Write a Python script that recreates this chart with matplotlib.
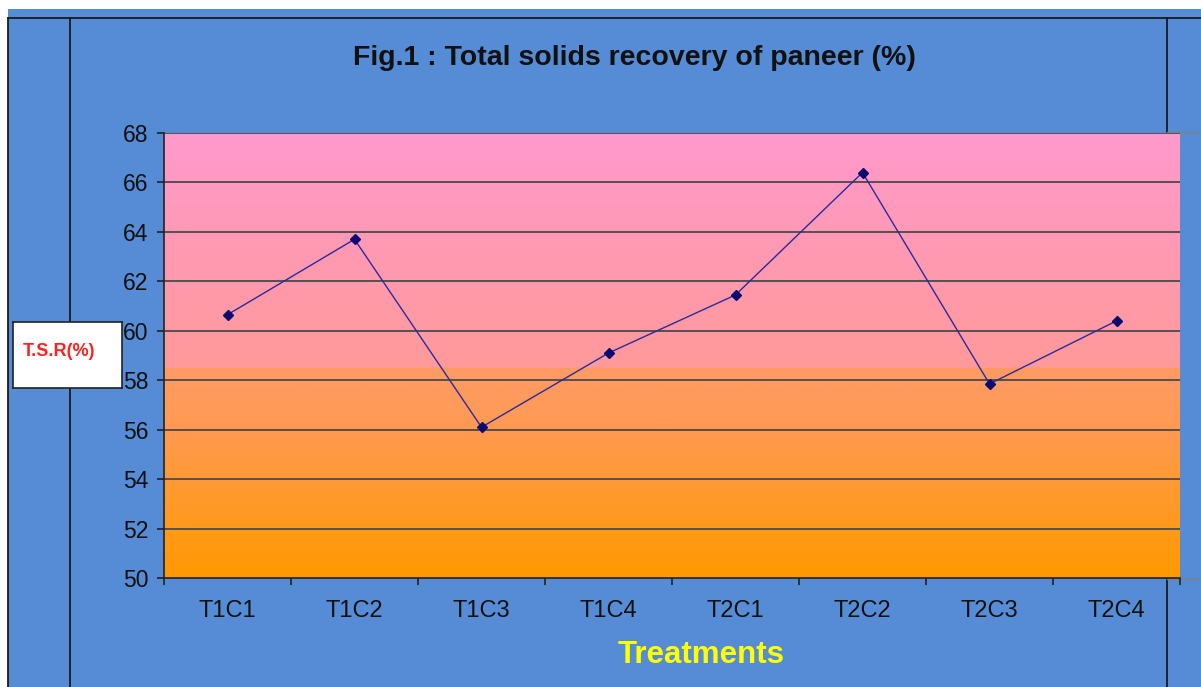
import numpy as np
import matplotlib
matplotlib.use("Agg")
import matplotlib.pyplot as plt
from matplotlib.colors import LinearSegmentedColormap
from matplotlib.patches import Rectangle
from matplotlib.lines import Line2D

categories = ["T1C1", "T1C2", "T1C3", "T1C4", "T2C1", "T2C2", "T2C3", "T2C4"]
tsr = [60.65, 63.7, 56.1, 59.1, 61.45, 66.4, 57.85, 60.4]
yticks = [50, 52, 54, 56, 58, 60, 62, 64, 66, 68]

plt.rcParams['font.family'] = ['Liberation Sans', 'DejaVu Sans']

W, H = 1201, 687
blue = '#558CD5'
fig = plt.figure(figsize=(W / 100, H / 100), dpi=100)
fig.patch.set_facecolor(blue)

# white margins (top strip and left strip)
fig.patches.append(Rectangle((0, 1 - 9 / H), 1, 9 / H, transform=fig.transFigure,
                             facecolor='white', edgecolor='none', zorder=0))
fig.patches.append(Rectangle((0, 0), 8 / W, 1, transform=fig.transFigure,
                             facecolor='white', edgecolor='none', zorder=0))

def fl(x0, y0, x1, y1, c='#1a1a1a', lw=1.3):
    fig.lines.append(Line2D([x0 / W, x1 / W], [1 - y0 / H, 1 - y1 / H], transform=fig.transFigure,
                            color=c, lw=lw, zorder=1))
fl(8, 18, W, 18)
fl(8, 18, 8, H)
fl(70, 18, 70, H)
fl(1167, 18, 1167, 132)
fl(1167, 579, 1167, H)
fl(1167, 132, W, 132, c='#808080', lw=1)
fl(1167, 579, W, 579, c='#808080', lw=1)

ax = fig.add_axes([164 / W, 1 - 578 / H, (1180 - 164) / W, (578 - 133) / H])
ax.set_zorder(3)
ax.set_facecolor('none')

n = len(categories)
x = np.arange(n)
ax.set_xlim(-0.5, n - 0.5)
ax.set_ylim(50, 68)

split = (58.5 - 50) / 18
cmap = LinearSegmentedColormap.from_list('bg', [
    (0.0, '#FF9900'),
    (0.35, '#FF9A55'),
    (split - 0.001, '#FF9A66'),
    (split, '#FF9A9A'),
    (1.0, '#FF99CC'),
])
grad = np.linspace(0, 1, 512).reshape(-1, 1)
ax.imshow(grad, cmap=cmap, origin='lower', aspect='auto', extent=(-0.5, n - 0.5, 50, 68), zorder=0)

for yv in yticks[1:]:
    ax.axhline(yv, color='#4a4a4a', lw=1.3, zorder=1)

ax.plot(x, tsr, color='#2B2B9A', lw=1.0, marker='D', markersize=5.5,
        markerfacecolor='#0A0A70', markeredgecolor='#0A0A70', zorder=3)

ax.set_yticks(yticks)
ax.set_yticklabels([str(v) for v in yticks], fontsize=16.5, color='#111111')
ax.set_xticks(x)
ax.set_xticklabels(categories, fontsize=17, color='#111111')
ax.tick_params(axis='x', length=0, pad=16)
ax.set_xticks(np.arange(-0.5, n, 1), minor=True)
ax.tick_params(axis='x', which='minor', length=5, width=1.2, color='#222222')
ax.tick_params(axis='y', length=5, width=1.2, color='#222222', pad=6)

for s in ['top', 'right']:
    ax.spines[s].set_visible(False)
for s in ['left', 'bottom']:
    ax.spines[s].set_color('#222222')
    ax.spines[s].set_linewidth(1.2)

fig.text(634 / W, 1 - 58 / H, "Fig.1 : Total solids recovery of paneer (%)", ha='center', va='center',
         fontsize=20.5, fontweight='bold', color='#111111')
fig.text(701 / W, 1 - 655 / H, "Treatments", ha='center', va='center',
         fontsize=22.5, fontweight='bold', color='#FFFF00')

# y label box
box_ax = fig.add_axes([13 / W, 1 - 388 / H, 109 / W, 66 / H])
box_ax.set_zorder(5)
box_ax.set_facecolor('white')
box_ax.set_xticks([])
box_ax.set_yticks([])
for s in box_ax.spines.values():
    s.set_color('#222222')
    s.set_linewidth(1.2)
box_ax.text(0.09, 0.55, "T.S.R(%)", transform=box_ax.transAxes, ha='left', va='center', fontsize=13,
            fontweight='bold', color='#FF2020')

fig.savefig('out.png', dpi=100)
